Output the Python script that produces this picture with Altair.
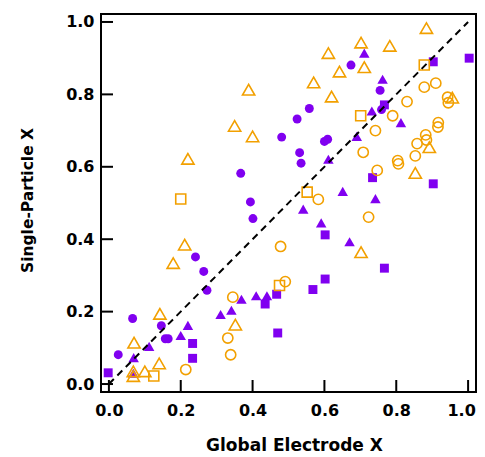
import altair as alt
import pandas as pd

# ---- data ----
# purple filled circles
pc_x = [0.026, 0.066, 0.146, 0.157, 0.165, 0.241, 0.264, 0.273, 0.367, 0.394, 0.401,
        0.481, 0.524, 0.531, 0.535, 0.558, 0.600, 0.609, 0.674, 0.755, 0.759]
pc_y = [0.081, 0.181, 0.161, 0.125, 0.125, 0.351, 0.311, 0.259, 0.582, 0.503, 0.457,
        0.682, 0.732, 0.639, 0.610, 0.761, 0.670, 0.676, 0.881, 0.811, 0.758]
# purple filled triangles
pt_x = [0.068, 0.069, 0.112, 0.200, 0.220, 0.311, 0.341, 0.369, 0.410, 0.440, 0.541,
        0.591, 0.611, 0.651, 0.670, 0.690, 0.711, 0.732, 0.742, 0.762, 0.813]
pt_y = [0.030, 0.073, 0.104, 0.134, 0.162, 0.192, 0.204, 0.234, 0.244, 0.244, 0.483,
        0.445, 0.621, 0.532, 0.393, 0.684, 0.914, 0.754, 0.512, 0.842, 0.722]
# purple filled squares
ps_x = [-0.002, 0.233, 0.233, 0.435, 0.467, 0.470, 0.568, 0.602, 0.602, 0.734, 0.767,
        0.767, 0.903, 0.903, 1.003]
ps_y = [0.031, 0.112, 0.071, 0.221, 0.248, 0.141, 0.261, 0.290, 0.412, 0.570, 0.320,
        0.771, 0.890, 0.553, 0.900]
# orange open circles
oc_x = [0.214, 0.331, 0.339, 0.345, 0.478, 0.491, 0.583, 0.708, 0.723, 0.742, 0.747,
        0.790, 0.804, 0.806, 0.830, 0.853, 0.858, 0.882, 0.884, 0.878, 0.910, 0.917,
        0.916, 0.943, 0.945]
oc_y = [0.040, 0.127, 0.081, 0.240, 0.380, 0.283, 0.510, 0.640, 0.461, 0.700, 0.590,
        0.741, 0.617, 0.608, 0.780, 0.630, 0.664, 0.688, 0.674, 0.820, 0.831, 0.722,
        0.710, 0.792, 0.777]
# orange open triangles
ot_x = [0.068, 0.068, 0.070, 0.100, 0.140, 0.142, 0.179, 0.211, 0.220, 0.352, 0.350,
        0.389, 0.400, 0.570, 0.611, 0.620, 0.642, 0.702, 0.702, 0.711, 0.782, 0.853,
        0.884, 0.892, 0.956]
ot_y = [0.035, 0.022, 0.114, 0.035, 0.057, 0.194, 0.334, 0.385, 0.622, 0.164, 0.713,
        0.813, 0.684, 0.833, 0.914, 0.794, 0.863, 0.364, 0.943, 0.875, 0.934, 0.583,
        0.983, 0.654, 0.791]
# orange open squares
os_x = [0.125, 0.200, 0.475, 0.552, 0.701, 0.878]
os_y = [0.022, 0.511, 0.272, 0.530, 0.741, 0.881]

# 1:1 reference line
line_x = [0.0, 1.0]
line_y = [0.0, 1.0]

tick_values = [0.0, 0.2, 0.4, 0.6, 0.8, 1.0]

PURPLE = "#8000F0"
ORANGE = "#F2A000"
FONT = "DejaVu Sans"

W, H = 375, 378
xscale = alt.Scale(domain=[-0.022, 1.022], nice=False, zero=False)
yscale = alt.Scale(domain=[-0.022, 1.022], nice=False, zero=False)

X = alt.X("x:Q", scale=xscale,
          axis=alt.Axis(values=tick_values, format=".1f", title="Global Electrode X",
                        ticks=False, domain=False, grid=False, labelPadding=10,
                        labelOffset={"condition": {"test": "datum.value >= 0.99",
                                                   "value": -7},
                                     "value": 0},
                        titleX=193, titleY=58, titleBaseline="alphabetic",
                        titleAlign="center", titleFontSize=17))
Y = alt.Y("y:Q", scale=yscale,
          axis=alt.Axis(values=tick_values, format=".1f", title="Single-Particle X",
                        ticks=False, domain=False, grid=False, labelPadding=7,
                        titleAngle=270, titleX=-68.5, titleY=186,
                        titleBaseline="alphabetic", titleAlign="center",
                        titleFontSize=15.5))


def frame(xs, ys):
    return pd.DataFrame({"x": xs, "y": ys})


def pts(xs, ys, shape, color, filled, size):
    if filled:
        m = alt.Chart(frame(xs, ys)).mark_point(shape=shape, filled=True, fill=color,
                                                  stroke=None, size=size, opacity=1)
    else:
        m = alt.Chart(frame(xs, ys)).mark_point(shape=shape, filled=False, color=color,
                                                  strokeWidth=1.6, size=size, opacity=1)
    return m.encode(x=X, y=Y)


layers = [
    pts(pc_x, pc_y, "circle", PURPLE, True, 80),
    pts(pt_x, pt_y, "triangle-up", PURPLE, True, 110),
    pts(ps_x, ps_y, "square", PURPLE, True, 80),
    pts(oc_x, oc_y, "circle", ORANGE, False, 105),
    pts(ot_x, ot_y, "triangle-up", ORANGE, False, 150),
    pts(os_x, os_y, "square", ORANGE, False, 100),
]

line = alt.Chart(frame(line_x, line_y)).mark_line(
    color="black", strokeWidth=2, strokeDash=[7, 5]).encode(x=X, y=Y)

tick_df = pd.DataFrame({"x": tick_values, "y": tick_values})
yticks = alt.Chart(tick_df).mark_rule(color="black", strokeWidth=2).encode(
    y=Y, x=alt.value(0), x2=alt.value(12))
xticks = alt.Chart(tick_df).mark_rule(color="black", strokeWidth=2).encode(
    x=X, y=alt.value(H), y2=alt.value(H - 12))

chart = alt.layer(*layers, line, yticks, xticks).properties(
    width=W, height=H,
    autosize=alt.AutoSizeParams(type="none"),
    padding={"left": 93, "top": 6, "right": 1, "bottom": 63},
    background="white",
).configure_view(
    stroke="black", strokeWidth=2
).configure_axis(
    labelFont=FONT, labelFontWeight="bold", labelFontSize=16, labelColor="black",
    titleFont=FONT, titleFontWeight="bold", titleColor="black",
)

chart.save("out.html", embed_options={"renderer": "svg", "actions": False})
